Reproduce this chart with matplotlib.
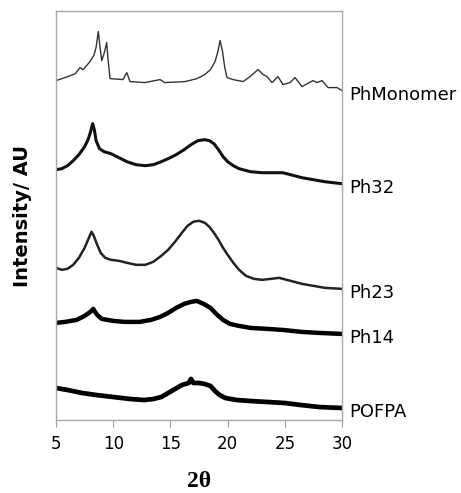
import matplotlib.pyplot as plt

# 2theta / intensity (arbitrary units)
mono_x = [5.0, 6.05, 6.7, 7.1, 7.36, 7.6, 7.97, 8.3, 8.5, 8.7, 8.85, 9.0, 9.2, 9.43, 9.55,
          9.72, 10.86, 11.18, 11.47, 12.78, 14.09, 14.5, 16.28, 17.33, 18.0, 18.5, 18.9,
          19.15, 19.34, 19.55, 19.75, 19.95, 20.47, 21.35, 21.96, 22.66, 23.1, 23.44,
          23.88, 24.4, 24.84, 25.45, 25.89, 26.5, 27.46, 27.81, 28.25, 28.78, 29.56, 30.0]
mono_y = [339, 343, 346, 352, 350, 353, 358, 364, 372, 388, 372, 359, 366, 377, 360,
          341, 340, 347, 338, 337, 340, 337, 338, 341, 345, 350, 358,
          368, 379, 368, 352, 342, 340, 338, 343, 350, 345, 343,
          337, 343, 335, 337, 342, 333, 339, 337, 339, 332, 332, 329]

ph32_x = [5.0, 5.5, 6.0, 6.5, 7.0, 7.5, 7.8, 8.0, 8.2, 8.35, 8.5, 8.8, 9.2, 9.8, 10.5,
          11.2, 12.0, 12.8, 13.5, 14.2, 14.8, 15.5, 16.2, 16.8, 17.4, 18.0, 18.4, 18.8,
          19.2, 19.6, 20.0, 20.5, 21.0, 22.0, 23.0, 24.0, 24.8, 25.5, 26.5, 27.5, 28.5, 30.0]
ph32_y = [250, 251, 254, 259, 265, 273, 280, 287, 296, 290, 279, 271, 268, 266, 262,
          258, 255, 254, 255, 258, 261, 265, 270, 275, 279, 280, 279, 276,
          270, 263, 258, 254, 251, 248, 247, 247, 247, 245, 242, 240, 238, 236]

ph23_x = [5.0, 5.5, 6.0, 6.5, 7.0, 7.5, 7.8, 8.1, 8.3, 8.6, 8.9, 9.3, 9.8, 10.5, 11.2,
          12.0, 12.8, 13.5, 14.2, 14.8, 15.4, 16.0, 16.5, 17.0, 17.5, 18.0, 18.4, 18.8,
          19.2, 19.6, 20.0, 20.5, 21.0, 21.6, 22.3, 23.0, 23.8, 24.5, 25.5, 26.5, 27.5,
          28.5, 30.0]
ph23_y = [152, 150, 151, 155, 162, 172, 180, 188, 184, 175, 167, 162, 160, 159, 157,
          155, 155, 158, 164, 170, 178, 187, 194, 198, 199, 197, 193, 187,
          180, 172, 165, 157, 150, 144, 141, 140, 141, 142, 139, 136, 134,
          132, 131]

ph14_x = [5.0, 5.8, 6.8, 7.5, 8.0, 8.25, 8.6, 9.0, 10.0, 11.0, 12.3, 13.3, 14.1, 14.8,
          15.5, 16.2, 16.8, 17.3, 17.9, 18.5, 19.0, 19.6, 20.2, 21.0, 22.0, 23.5, 24.8,
          26.5, 28.0, 30.0]
ph14_y = [97, 98, 100, 104, 108, 111, 105, 101, 99, 98, 98, 100, 103, 107,
          112, 116, 118, 119, 116, 112, 106, 100, 96, 94, 92, 91, 90,
          88, 87, 86]

pofpa_x = [5.0, 6.0, 7.3, 8.5, 10.0, 11.5, 12.7, 13.5, 14.2, 14.8, 15.4, 16.0, 16.6,
           16.8, 17.0, 17.5, 18.0, 18.5, 18.9, 19.3, 19.8, 20.8, 22.0, 23.5, 25.0, 26.4,
           28.0, 30.0]
pofpa_y = [32, 30, 27, 25, 23, 21, 20, 21, 23, 27, 31, 35, 37,
           41, 37, 37, 36, 34, 29, 25, 22, 20, 19, 18, 17, 15,
           13, 12]

names = ['PhMonomer', 'Ph32', 'Ph23', 'Ph14', 'POFPA']
xs = [mono_x, ph32_x, ph23_x, ph14_x, pofpa_x]
ys = [mono_y, ph32_y, ph23_y, ph14_y, pofpa_y]
widths = [1.0, 2.2, 1.8, 3.2, 3.4]
colors = ['#333333', '#111111', '#222222', '#000000', '#000000']

fig = plt.figure(figsize=(4.61, 4.93), dpi=100)
ax = fig.add_axes([0.1215, 0.148, 0.6205, 0.8297])

for x, y, lw, c, name in zip(xs, ys, widths, colors, names):
    ax.plot(x, y, color=c, lw=lw, solid_joinstyle='round')
    ax.annotate(name, xy=(30, y[-1]), xytext=(5, -3), textcoords='offset points',
                va='center', ha='left', fontsize=13, annotation_clip=False)

ax.set_xlim(5, 30)
ax.set_ylim(0, 408.5)
ax.set_xticks([5, 10, 15, 20, 25, 30])
ax.set_yticks([])
ax.tick_params(axis='x', direction='out', length=5, color='#a0a0a0', labelsize=12, pad=6)
for s in ax.spines.values():
    s.set_color('#a8a8a8')
    s.set_linewidth(1.0)

ax.set_ylabel('Intensity/ AU', fontsize=14, fontweight='bold', labelpad=17)
ax.set_xlabel('2θ', fontsize=17, fontweight='bold', family='Liberation Serif', labelpad=12.5)

plt.savefig('out.png', dpi=100)
